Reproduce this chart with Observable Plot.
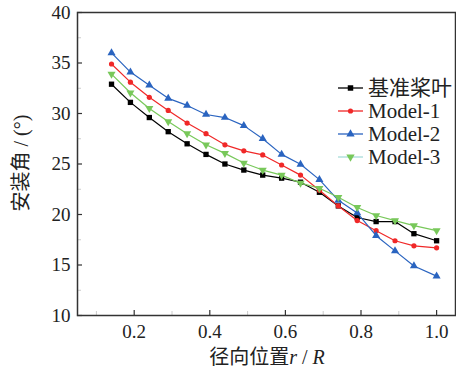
<!DOCTYPE html>
<html><head><meta charset="utf-8">
<script src="https://cdn.jsdelivr.net/npm/d3@7"></script>
<script src="https://cdn.jsdelivr.net/npm/@observablehq/plot@0.6"></script>
<style>body{margin:0;background:#fff} svg text{font-family:"Times New Roman","Liberation Serif","DejaVu Serif","Noto Sans CJK SC",serif !important}</style>
</head><body><div id="chart"></div>
<script>
const xs = [0.14,0.19,0.24,0.29,0.34,0.39,0.44,0.49,0.54,0.59,0.64,0.69,0.74,0.79,0.84,0.89,0.94,1.0];
const baseBlade = [32.9,31.1,29.6,28.2,27.0,25.95,25.0,24.4,23.9,23.6,23.2,22.2,20.85,19.7,19.3,19.3,18.1,17.4];
const model1 = [34.9,33.1,31.6,30.3,29.05,28.0,26.9,26.3,25.9,24.9,23.9,22.4,20.85,19.4,18.4,17.4,16.9,16.7];
const model2 = [36.0,34.1,32.8,31.5,30.8,29.9,29.6,28.8,27.5,25.95,24.97,23.45,21.4,20.15,17.9,16.4,14.9,13.9];
const model3 = [33.9,32.05,30.5,29.2,28.0,26.9,26.05,25.1,24.4,23.9,23.1,22.6,21.7,20.7,19.9,19.4,18.9,18.4];
const seriesNames = ["基准桨叶","Model-1","Model-2","Model-3"];
const seriesValues = [baseBlade, model1, model2, model3];
const colors = ["#000000","#f02828","#2a64c0","#78c85a"];
const legendLineColors = ["#000000","#f02828","#2a64c0","#a8dcd8"];
const symbols = ["square","circle","triangle","triangle"];
const rotates = [0,0,0,180];
const yTicks = [10,15,20,25,30,35,40];
const xTicks = [0.2,0.4,0.6,0.8,1.0];
const xMinor = [0.1,0.3,0.5,0.7,0.9];
const yMinor = [12.5,17.5,22.5,27.5,32.5,37.5];

const font = "'Times New Roman','Liberation Serif','Noto Sans CJK SC',serif";
const marks = [];
seriesNames.forEach((name, i) => {
  const data = xs.map((x, j) => ({x, y: seriesValues[i][j], series: name}));
  marks.push(Plot.line(data, {x: "x", y: "y", stroke: colors[i], strokeWidth: 1.2}));
  marks.push(Plot.dot(data, {x: "x", y: "y", symbol: symbols[i], fill: colors[i], stroke: "none", r: symbols[i]==="circle"?2.6:3, rotate: rotates[i]}));
});

const plot = Plot.plot({
  width: 456, height: 370,
  marginLeft: 77, marginRight: 1, marginTop: 12, marginBottom: 55,
  style: {fontFamily: font, background: "#fff", color: "#222", overflow: "visible"},
  x: {domain: [0.05, 1.05]},
  y: {domain: [10, 40]},
  marks: [
    Plot.axisX(xMinor, {tickSize: -4, stroke: "#ccc", text: null, label: null}),
    Plot.axisY(yMinor, {tickSize: -4, stroke: "#ccc", text: null, label: null}),
    Plot.axisX(xTicks, {tickSize: -5, tickPadding: 14, tickFormat: d3.format(".1f"), fontSize: 19, fill: "#222", stroke: "#333", strokeWidth: 1.2, label: null}),
    Plot.axisY(yTicks, {tickSize: -5, tickPadding: 12, fontSize: 19, fill: "#222", stroke: "#333", strokeWidth: 1.2, label: null}),
    ...marks,
    Plot.frame({stroke: "#333", strokeWidth: 1.5})
  ]
});

const svg = d3.select(plot);
// axis labels
svg.append("text").attr("transform", "translate(23,163) rotate(-90)")
  .attr("text-anchor", "middle").attr("dominant-baseline", "middle")
  .attr("font-size", 20).attr("fill", "#222").text("安装角 / (°)");
const xl = svg.append("text").attr("x", 267).attr("y", 364)
  .attr("text-anchor", "middle").attr("font-size", 20).attr("fill", "#222");
xl.append("tspan").text("径向位置");
xl.append("tspan").attr("font-style", "italic").text("r");
xl.append("tspan").text(" / ");
xl.append("tspan").attr("font-style", "italic").text("R");

// legend
const lg = svg.append("g").attr("text-anchor", "start");
seriesNames.forEach((name, i) => {
  const y = 88 + i * 23;
  lg.append("line").attr("x1", 338).attr("x2", 363).attr("y1", y).attr("y2", y)
    .attr("stroke", legendLineColors[i]).attr("stroke-width", 1.3);
  const sym = {square: d3.symbolSquare, circle: d3.symbolCircle, triangle: d3.symbolTriangle}[symbols[i]];
  lg.append("path").attr("d", d3.symbol(sym, symbols[i]==="circle"?21:30)())
    .attr("transform", `translate(350.5,${y}) rotate(${rotates[i]})`).attr("fill", colors[i]);
  lg.append("text").attr("x", 368).attr("y", y).attr("dy", "0.35em").attr("text-anchor", "start")
    .attr("font-size", 21).attr("fill", "#222").text(name);
});

document.getElementById("chart").append(plot);
</script>
</body></html>
